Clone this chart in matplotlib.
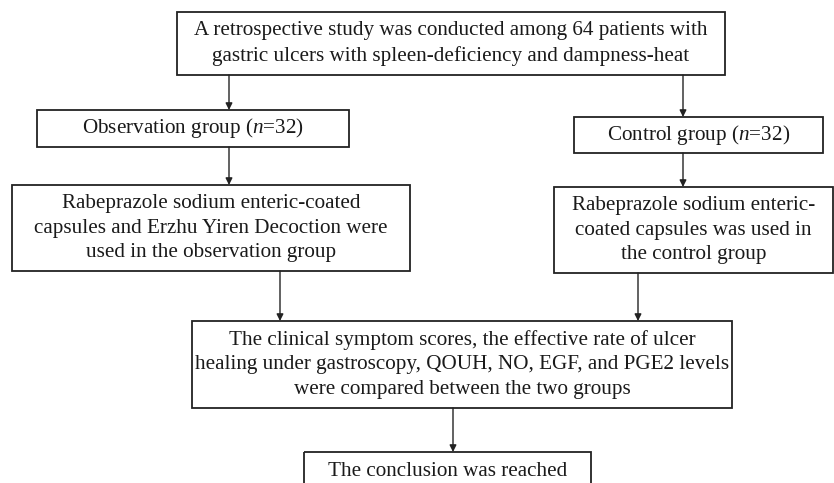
import matplotlib
matplotlib.use("Agg")
import matplotlib.pyplot as plt
from matplotlib.patches import Rectangle

plt.rcParams['font.family'] = ['Liberation Serif', 'DejaVu Serif']
plt.rcParams['mathtext.fontset'] = 'custom'
plt.rcParams['mathtext.rm'] = 'Liberation Serif'
plt.rcParams['mathtext.it'] = 'Liberation Serif:italic'

# Box texts
box_texts = [
    "A retrospective study was conducted among 64 patients with\ngastric ulcers with spleen-deficiency and dampness-heat",
    "Observation group ($n$=32)",
    "Control group ($n$=32)",
    "Rabeprazole sodium enteric-coated\ncapsules and Erzhu Yiren Decoction were\nused in the observation group",
    "Rabeprazole sodium enteric-\ncoated capsules was used in\nthe control group",
    "The clinical symptom scores, the effective rate of ulcer\nhealing under gastroscopy, QOUH, NO, EGF, and PGE2 levels\nwere compared between the two groups",
    "The conclusion was reached",
]

# layout (pixel coords: x0, y0, x1, y1)
boxes = [
    (177, 12, 725, 75),
    (37, 110, 349, 147),
    (574, 117, 823, 153),
    (12, 185, 410, 271),
    (554, 187, 833, 273),
    (192, 321, 732, 408),
    (304, 452, 591, 500),
]
arrows = [
    (229, 75, 110),
    (683, 75, 117),
    (229, 147, 185),
    (683, 153, 187),
    (280, 271, 321),
    (638, 273, 321),
    (453, 408, 452),
]

fig = plt.figure(figsize=(8.34, 4.83), dpi=100)
ax = fig.add_axes([0, 0, 1, 1])
ax.set_xlim(0, 834)
ax.set_ylim(483, 0)
ax.axis('off')

for (x0, y0, x1, y1), t in zip(boxes, box_texts):
    ax.add_patch(Rectangle((x0, y0), x1 - x0, y1 - y0, fill=False,
                           edgecolor='#222222', linewidth=1.3))
    cy = (y0 + y1) / 2 if y1 <= 483 else y0 + 19
    ax.text((x0 + x1) / 2, cy, t, ha='center', va='center',
            fontsize=15.2, linespacing=1.42, color='#1a1a1a')

for x, ys, ye in arrows:
    ax.annotate('', xy=(x, ye), xytext=(x, ys),
                arrowprops=dict(arrowstyle='-|>', color='#222222', lw=1.0,
                                mutation_scale=10, shrinkA=0, shrinkB=0))

fig.savefig('out.png', dpi=100)
